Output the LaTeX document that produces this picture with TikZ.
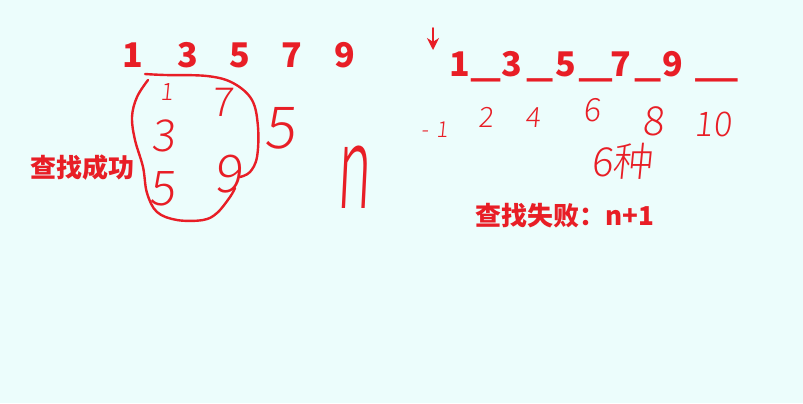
\documentclass[tikz,border=0pt]{standalone}
\usepackage{fontspec}
\setmainfont{Noto Sans CJK SC}
\IfFontExistsTF{Noto Sans CJK SC Light}
    {\newfontfamily\hand{Noto Sans CJK SC Light}[FakeSlant=0.1]}
    {\newfontfamily\hand{Noto Sans CJK SC}[FakeSlant=0.1]}
\usepackage{tikz}
\usetikzlibrary{arrows.meta, calc, positioning}
\definecolor{inkred}{RGB}{232,30,38}
\definecolor{paper}{RGB}{236,253,252}
\tikzset{
    typed/.style={text=inkred, inner sep=0pt, font=\bfseries\fontsize{17}{20}\selectfont},
    caption/.style={text=inkred, inner sep=0pt, font=\bfseries\fontsize{13}{15}\selectfont},
    scrawl/.style={text=inkred, inner sep=0pt, font=\hand\fontsize{#1}{#1}\selectfont},
    scrawl/.default=14,
    pen/.style={draw=inkred, line width=1.2pt, line cap=round, line join=round},
}

\begin{document}
\begin{tikzpicture}[x=0.5pt, y=-0.5pt]
    \fill[paper] (0,0) rectangle (803,403);
    \useasboundingbox (0,0) rectangle (803,403);

    % left: the sorted list and the tree of successful searches
    \foreach \v/\x in {1/133, 3/188, 5/240, 7/292, 9/345}
        \node[typed, anchor=base] (top\v) at (\x,67) {\v};
    \node[caption] (found) at (83,168) {查找成功};

    \draw[pen] plot[smooth, tension=0.6] coordinates {(145,74) (165,75) (207,76) (233,83) (252,100)
        (258,127) (257,157) (250,172) (240,177)};
    \draw[pen] plot[smooth, tension=0.6] coordinates {(148,80) (137,97) (132,117) (135,140) (143,167)
        (147,193) (157,212) (177,220) (203,220) (217,213) (230,197) (235,188)};

    \node[scrawl=12] (in1) at (167,92) {1};
    \node[scrawl=20] (in7) at (222,102) {7};
    \node[scrawl=22] (in3) at (163,136) {3};
    \node[scrawl=24] (in5) at (162,189) {5};
    \node[scrawl=26] (in9) at (228,174) {9};
    \node[scrawl=29] (side5) at (280,128) {5};
    \node[scrawl=26] (en) at (353,177) {\scalebox{1.1}[2.2]{n}};

    % right: the gaps where a search fails
    \coordinate (arrtop) at (433,28);
    \coordinate (arrbot) at (433,50);
    \draw[pen, line width=1pt, -{Stealth[length=6pt, width=6pt]}] (arrtop) -- (arrbot);

    \foreach \v/\x in {1/460, 3/512, 5/566, 7/621, 9/673}
        \node[typed, anchor=base] (row\v) at (\x,76) {\v};
    \foreach \n/\x/\w in {a/486/1.6, b/540/1.4, c/596/1.8, d/648/1.4, e/717/2.3}
        \node[typed, anchor=base] (gap\n) at (\x,76) {\scalebox{\w}[1]{\_}};

    \node[scrawl=11] (gm1) at (435,130) {-\,\,1};
    \node[scrawl=14] (g2) at (486,117) {2};
    \node[scrawl=14] (g4) at (533,118) {4};
    \node[scrawl=16] (g6) at (592,110) {6};
    \node[scrawl=20] (g8) at (653,121) {8};
    \node[scrawl=17] (g10) at (713,124) {10};
    \node[scrawl=20] (kinds) at (622,161) {6种};

    \node[caption] (failed) at (565,216) {查找失败：n+1};
\end{tikzpicture}
\end{document}
